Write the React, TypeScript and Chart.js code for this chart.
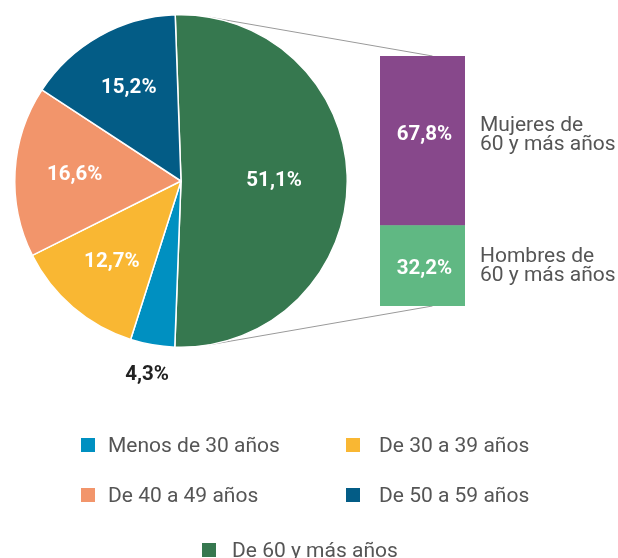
import React, { useEffect, useRef } from 'react';
import { Chart, registerables } from 'chart.js';
Chart.register(...registerables);

// ---- data ----
const categories = ['Menos de 30 años', 'De 30 a 39 años', 'De 40 a 49 años', 'De 50 a 59 años', 'De 60 y más años'];
const shares = [4.3, 12.7, 16.6, 15.2, 51.1];
const shareLabels = ['4,3%', '12,7%', '16,6%', '15,2%', '51,1%'];
const colors = ['#0090C1', '#F9B733', '#F2956B', '#035C86', '#36784F'];
const pieOrder = [4, 0, 1, 2, 3]; // clockwise from top

const seniorGroups = ['Hombres de\n60 y más años', 'Mujeres de\n60 y más años'];
const seniorShares = [32.2, 67.8];
const seniorShareLabels = ['32,2%', '67,8%'];
const seniorColors = ['#60B883', '#87488B'];

const FONT = 'Roboto, "Noto Sans", sans-serif';

const pieLabelPlugin = {
  id: 'pieLabels',
  afterDatasetsDraw(chart: any) {
    const ctx = chart.ctx;
    const meta = chart.getDatasetMeta(0);
    const total = pieOrder.reduce((s, i) => s + shares[i], 0);
    meta.data.forEach((arc: any, k: number) => {
      const idx = pieOrder[k];
      const pct = shares[idx] / total;
      const mid = (arc.startAngle + arc.endAngle) / 2;
      let dist: number;
      let color = '#ffffff';
      if (pct < 0.06) {
        dist = arc.outerRadius + 31;
        color = '#222222';
      } else if (pct > 0.4) {
        dist = arc.outerRadius * 0.56;
      } else {
        dist = arc.outerRadius * 0.64;
      }
      const x = arc.x + Math.cos(mid) * dist;
      const y = arc.y + Math.sin(mid) * dist;
      ctx.save();
      ctx.font = `bold 20.5px ${FONT}`;
      ctx.fillStyle = color;
      ctx.textAlign = 'center';
      ctx.textBaseline = 'middle';
      ctx.fillText(shareLabels[idx], x, y);
      ctx.restore();
    });
  },
};

const barLabelPlugin = {
  id: 'barLabels',
  afterDatasetsDraw(chart: any) {
    const ctx = chart.ctx;
    chart.data.datasets.forEach((ds: any, i: number) => {
      const el: any = chart.getDatasetMeta(i).data[0];
      const cy = (el.y + el.base) / 2;
      const off = i === 1 ? -6 : 3;
      ctx.save();
      ctx.font = `bold 20.5px ${FONT}`;
      ctx.fillStyle = '#ffffff';
      ctx.textAlign = 'center';
      ctx.textBaseline = 'middle';
      ctx.fillText(seniorShareLabels[i], el.x + 2, cy + off);
      ctx.font = `21px ${FONT}`;
      ctx.fillStyle = '#555555';
      ctx.textAlign = 'left';
      ctx.textBaseline = 'alphabetic';
      const lines = seniorGroups[i].split('\n');
      const tx = el.x + el.width / 2 + 15;
      const base = i === 1 ? cy - 10 : cy - 4;
      lines.forEach((ln: string, j: number) => ctx.fillText(ln, tx, base + j * 19));
      ctx.restore();
    });
  },
};

const PIE_LEFT = 0, PIE_TOP = 0;
const BAR_LEFT = 370, BAR_TOP = 0;

export default function App() {
  const pieRef = useRef<HTMLCanvasElement>(null);
  const barRef = useRef<HTMLCanvasElement>(null);
  const lineRef = useRef<HTMLCanvasElement>(null);

  useEffect(() => {
    document.body.style.margin = '0';
    Chart.defaults.font.family = FONT;
    const pie = new Chart(pieRef.current!, {
      type: 'pie',
      data: {
        labels: pieOrder.map((i) => categories[i]),
        datasets: [
          {
            data: pieOrder.map((i) => shares[i]),
            backgroundColor: pieOrder.map((i) => colors[i]),
            borderColor: '#ffffff',
            borderWidth: 1.5,
          },
        ],
      },
      options: {
        responsive: false,
        animation: false,
        rotation: -2,
        layout: { padding: { left: 14, right: 14, top: 14, bottom: 52 } },
        plugins: { legend: { display: false }, tooltip: { enabled: false } },
      },
      plugins: [pieLabelPlugin],
    } as any);

    const bar = new Chart(barRef.current!, {
      type: 'bar',
      data: {
        labels: ['60 y más'],
        datasets: seniorGroups.map((g, i) => ({
          label: g,
          data: [seniorShares[i]],
          backgroundColor: seniorColors[i],
          borderWidth: 0,
          barPercentage: 1,
          categoryPercentage: 1,
        })),
      },
      options: {
        responsive: false,
        animation: false,
        layout: { padding: { left: 10, right: 153, top: 56, bottom: 24 } },
        scales: {
          x: { stacked: true, display: false },
          y: { stacked: true, display: false, min: 0, max: 100 },
        },
        plugins: { legend: { display: false }, tooltip: { enabled: false } },
      },
      plugins: [barLabelPlugin],
    } as any);

    // connector lines: tangent from bar corners to pie circle
    const lc = lineRef.current!;
    const lctx = lc.getContext('2d')!;
    lctx.clearRect(0, 0, lc.width, lc.height);
    const arc: any = pie.getDatasetMeta(0).data[0];
    const cx = arc.x + PIE_LEFT, cy = arc.y + PIE_TOP, r = arc.outerRadius;
    const top: any = bar.getDatasetMeta(1).data[0];
    const bot: any = bar.getDatasetMeta(0).data[0];
    const ex = top.x + BAR_LEFT + 10;
    const pts = [
      { x: ex, y: top.y + BAR_TOP, up: true },
      { x: ex, y: bot.base + BAR_TOP, up: false },
    ];
    pts.forEach((p) => {
      const dx = p.x - cx, dy = p.y - cy;
      const d = Math.hypot(dx, dy);
      const a0 = Math.atan2(dy, dx);
      const alpha = Math.acos(r / d);
      const c1 = { x: cx + r * Math.cos(a0 + alpha), y: cy + r * Math.sin(a0 + alpha) };
      const c2 = { x: cx + r * Math.cos(a0 - alpha), y: cy + r * Math.sin(a0 - alpha) };
      const t = p.up ? (c1.y < c2.y ? c1 : c2) : (c1.y > c2.y ? c1 : c2);
      lctx.beginPath();
      lctx.moveTo(t.x, t.y);
      lctx.lineTo(p.x, p.y);
      lctx.strokeStyle = '#9a9a9a';
      lctx.lineWidth = 1;
      lctx.stroke();
    });

    return () => {
      pie.destroy();
      bar.destroy();
    };
  }, []);

  const legendSlots = [
    { box: 81, text: 108, y: 445 },
    { box: 346, text: 379, y: 445 },
    { box: 81, text: 108, y: 495 },
    { box: 346, text: 379, y: 495 },
    { box: 202, text: 232, y: 550 },
  ];

  return (
    <div style={{ position: 'fixed', left: 0, top: 0, width: 618, height: 558, background: '#fff', overflow: 'hidden', fontFamily: FONT }}>
      <canvas ref={lineRef} width={618} height={558} style={{ position: 'absolute', left: 0, top: 0 }} />
      <canvas ref={pieRef} width={362} height={400} style={{ position: 'absolute', left: PIE_LEFT, top: PIE_TOP, width: 362, height: 400 }} />
      <canvas ref={barRef} width={248} height={330} style={{ position: 'absolute', left: BAR_LEFT, top: BAR_TOP, width: 248, height: 330 }} />
      {categories.map((c, i) => {
        const s = legendSlots[i];
        return (
          <React.Fragment key={c}>
            <div style={{ position: 'absolute', left: s.box, top: s.y - 7, width: 14, height: 14, background: colors[i] }} />
            <div style={{ position: 'absolute', left: s.text, top: s.y - 12, height: 24, lineHeight: '24px', fontSize: 21, color: '#555555', whiteSpace: 'nowrap' }}>{c}</div>
          </React.Fragment>
        );
      })}
    </div>
  );
}
